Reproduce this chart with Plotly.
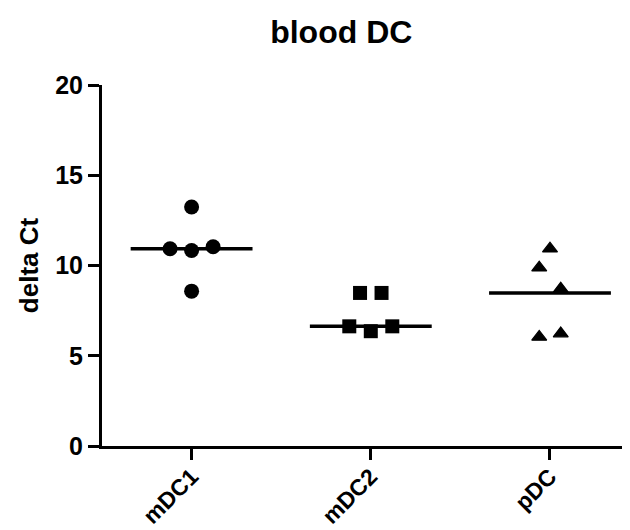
import plotly.graph_objects as go

# ---- data ----
categories = ["mDC1", "mDC2", "pDC"]
mdc1_values = [13.24, 10.93, 10.83, 11.04, 8.58]
mdc2_values = [8.48, 8.48, 6.63, 6.36, 6.63]
pdc_values = [10.93, 9.88, 8.71, 6.04, 6.23]
center_lines = [10.93, 6.63, 8.48]
y_ticks = [0, 5, 10, 15, 20]

# layout-only horizontal spread of the dots within each column
mdc1_spread = [0, -0.12, 0, 0.12, 0]
mdc2_spread = [-0.06, 0.06, -0.12, 0, 0.12]
pdc_spread = [0, -0.06, 0.06, -0.06, 0.06]

FONT = "Liberation Sans, Arial, sans-serif"

series = [
    (mdc1_values, mdc1_spread, "circle", 15, 0),
    (mdc2_values, mdc2_spread, "square", 14, 0),
    (pdc_values, pdc_spread, "triangle-up", 13, 1.2),
]

fig = go.Figure()
for i, (vals, spread, sym, size, lw) in enumerate(series):
    fig.add_trace(go.Scatter(
        x=[i + s for s in spread], y=vals, mode="markers",
        marker=dict(symbol=sym, size=size, color="black",
                    line=dict(width=lw, color="black")),
        showlegend=False, cliponaxis=False))
    half = 0.34
    fig.add_trace(go.Scatter(
        x=[i - half, i + half], y=[center_lines[i], center_lines[i]],
        mode="lines", line=dict(color="black", width=3.5),
        showlegend=False))

fig.update_layout(
    width=630, height=530,
    margin=dict(l=94, r=2, t=77, b=92),
    paper_bgcolor="white", plot_bgcolor="white",
    font=dict(family=FONT, color="black", size=24, weight="bold"),
    title=dict(text="blood DC", x=0.529, xanchor="center", xref="container",
               y=1 - 24 / 530, yanchor="middle", yref="container",
               font=dict(family=FONT, size=32, color="black", weight="bold")),
)
fig.update_xaxes(
    range=[-0.5, 2.48], tickvals=[0, 1, 2], ticktext=categories,
    tickangle=-45, showline=True, linecolor="black", linewidth=3,
    ticks="outside", ticklen=11, tickwidth=3, tickcolor="black",
    ticklabelstandoff=-6,
    showgrid=False, zeroline=False,
    tickfont=dict(family=FONT, size=23, color="black", weight="bold"))
fig.update_yaxes(
    range=[0, 20], tickvals=y_ticks, showline=True, linecolor="black",
    linewidth=3, ticks="outside", ticklen=11, tickwidth=3, tickcolor="black",
    showgrid=False, zeroline=False,
    tickfont=dict(family=FONT, size=25, color="black", weight="bold"),
    title=dict(text="delta Ct", standoff=10,
               font=dict(family=FONT, size=26, color="black", weight="bold")))

fig.write_html("out.html")
